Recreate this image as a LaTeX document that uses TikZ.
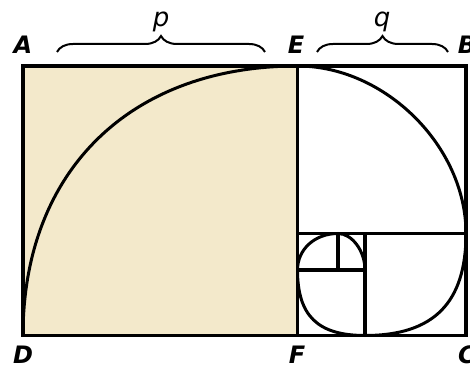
\documentclass[tikz,border=0pt]{standalone}
\usepackage{fontspec}
\setmainfont{DejaVu Sans}
\usetikzlibrary{decorations.pathreplacing,calc}
\definecolor{beige}{HTML}{F3E9CB}
\begin{document}
\begin{tikzpicture}[x=1pt,y=1pt,
  edge/.style={line width=3.5pt},
  spiral/.style={line width=3pt},
  ptlabel/.style={font=\fontsize{24}{24}\selectfont\bfseries\itshape, inner sep=0pt},
  brlabel/.style={font=\fontsize{26}{26}\selectfont\itshape, inner sep=0pt},
  bracestyle/.style={line width=2pt, decorate, decoration={brace, amplitude=16pt}}]
\useasboundingbox (0,0) rectangle (470,369);
\coordinate (A) at (23,303);
\coordinate (E) at (297.5,303);
\coordinate (B) at (466,303);
\coordinate (D) at (23,33.5);
\coordinate (F) at (297.5,33.5);
\coordinate (C) at (466,33.5);
\coordinate (G) at (297.5,135.5);
\coordinate (H) at (466,135.5);
\coordinate (I) at (365,135.5);
\coordinate (J) at (365,33.5);
\coordinate (K) at (297.5,99);
\coordinate (L) at (365,99);
\coordinate (M) at (338,135.5);
\coordinate (N) at (338,99);
\fill[beige] (D) rectangle (E);
\draw[edge] (D) rectangle (B);
\draw[edge] (E) -- (F);
\draw[edge] (G) -- (H);
\draw[edge] (I) -- (J);
\draw[edge] (K) -- (L);
\draw[edge] (M) -- (N);
\draw[spiral, line cap=round]
  (D) .. controls ($(D)!0.61!(A)$) and ($(E)!0.61!(A)$) .. (E)
      .. controls ($(E)!0.52!(B)$) and ($(H)!0.52!(B)$) .. (H)
      .. controls ($(H)!0.68!(C)$) and ($(J)!0.68!(C)$) .. (J)
      .. controls ($(J)!0.70!(F)$) and ($(K)!0.70!(F)$) .. (K)
      .. controls ($(K)!0.57!(G)$) and ($(M)!0.57!(G)$) .. (M)
      .. controls ($(M)!0.52!(I)$) and ($(L)!0.52!(I)$) .. (L);
\node[ptlabel] (lA) at (23,324) {A};
\node[ptlabel] (lE) at (296,324) {E};
\node[ptlabel] (lB) at (467,324) {B};
\node[ptlabel] (lD) at (23,14) {D};
\node[ptlabel] (lF) at (297,14) {F};
\node[ptlabel] (lC) at (467,14) {C};
\coordinate (p1) at (57,317);
\coordinate (p2) at (265,317);
\coordinate (q1) at (317,317);
\coordinate (q2) at (448,317);
\draw[bracestyle] (p1) -- (p2);
\draw[bracestyle] (q1) -- (q2);
\node[brlabel] (lp) at (161,347) {p};
\node[brlabel] (lq) at (382,347) {q};
\end{tikzpicture}
\end{document}
